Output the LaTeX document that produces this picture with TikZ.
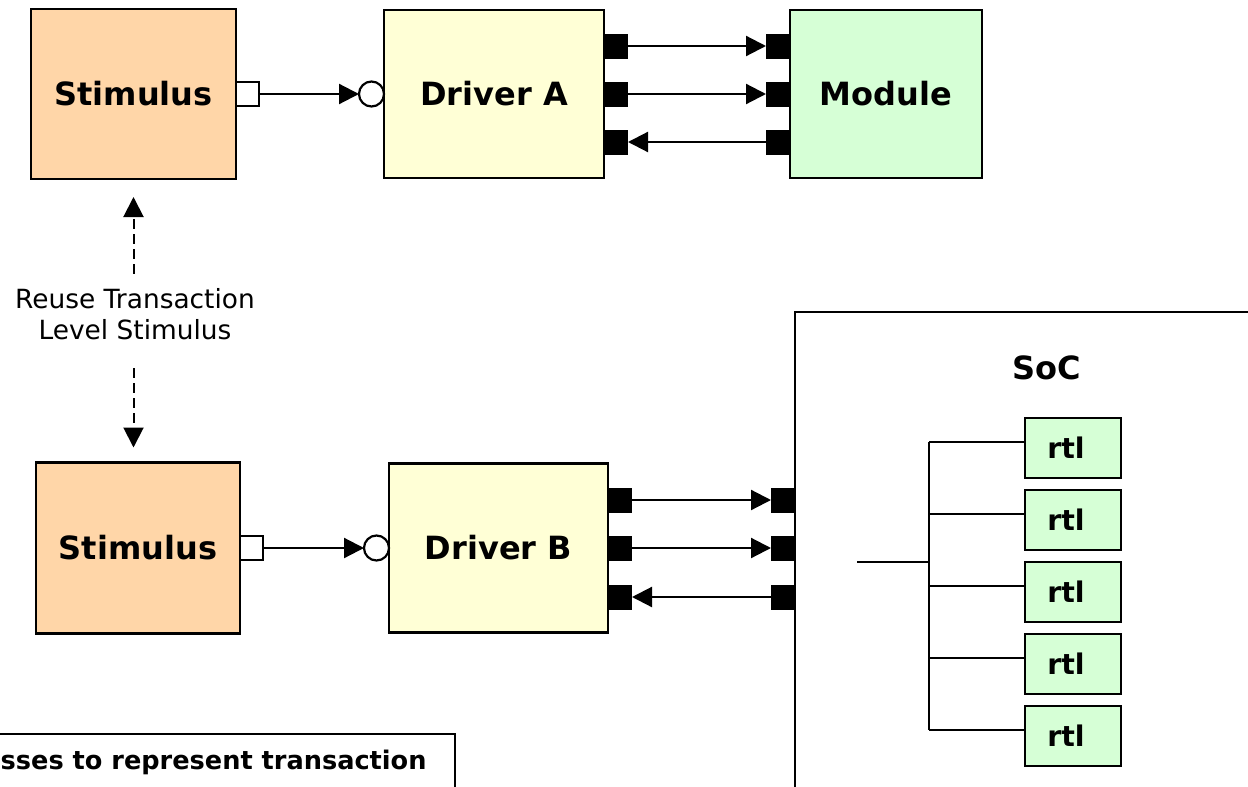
\documentclass[tikz,border=0pt]{standalone}
\usepackage{fontspec}
\setmainfont{DejaVu Sans}
\usepackage{tikz}
\usetikzlibrary{arrows.meta, positioning, calc}

\definecolor{stimfill}{RGB}{255,214,168}
\definecolor{drvfill}{RGB}{255,255,214}
\definecolor{modfill}{RGB}{214,255,214}

\begin{document}
\begin{tikzpicture}[x=0.5pt, y=-0.5pt, >={Triangle[length=10pt, width=10pt]},
  blk/.style={draw, line width=1.2pt, inner sep=0, outer sep=0, font=\fontsize{16}{19}\selectfont\bfseries},
  bport/.style={fill=black, inner sep=0, outer sep=0, minimum width=12pt, minimum height=12.5pt},
  oport/.style={draw, fill=white, line width=1.1pt, inner sep=0, outer sep=0, minimum width=11.5pt, minimum height=12pt},
  iport/.style={draw, circle, fill=white, line width=1.1pt, inner sep=0, outer sep=0, minimum size=12.5pt},
  rtlbox/.style={draw, fill=modfill, line width=1.2pt, inner sep=0, outer sep=0, minimum width=48pt, minimum height=30pt, font=\fontsize{14.2}{17}\selectfont\bfseries},
  sig/.style={line width=1.1pt},
  dasharrow/.style={->, dashed, dash pattern=on 5pt off 2.5pt, line width=1pt}]
  \useasboundingbox (0,0) rectangle (1248,787);
  \clip (0,0) rectangle (1248,787);

  % top row
  \node[blk, fill=stimfill, minimum width=102.5pt, minimum height=85pt] (stima) at (133.5,94) {Stimulus};
  \node[blk, fill=drvfill, minimum width=110pt, minimum height=84pt] (drva) at (494,94) {Driver A};
  \node[blk, fill=modfill, minimum width=96pt, minimum height=84pt] (mod) at (886,94) {Module};

  \node[oport, anchor=west] (oa) at (stima.east) {};
  \node[iport, anchor=east] (ia) at (drva.west) {};
  \draw[sig, ->] (oa) -- (ia);

  \foreach \i/\dy in {1/-48, 2/0, 3/48} {
    \node[bport, anchor=west] (pa\i) at ([shift={(0,\dy)}]drva.east) {};
    \node[bport, anchor=east] (qa\i) at (mod.west |- pa\i) {};
  }
  \draw[sig, ->] (pa1) -- (qa1);
  \draw[sig, ->] (pa2) -- (qa2);
  \draw[sig, <-] (pa3) -- (qa3);

  % reuse
  \node[font=\fontsize{13.2}{15.5}\selectfont, align=center, inner sep=0] (reuse) at (135,314) {Reuse Transaction\\Level Stimulus};

  % bottom row
  \node[blk, fill=stimfill, minimum width=102pt, minimum height=85.5pt] (stimb) at (138,548) {Stimulus};
  \node[blk, fill=drvfill, minimum width=109.5pt, minimum height=84.5pt] (drvb) at (498.5,548) {Driver B};

  \draw[dasharrow, shorten <=7pt, shorten >=9pt] (stima.south |- reuse.north) -- (stima.south);
  \draw[dasharrow, shorten <=14pt, shorten >=7.5pt] (stima.south |- reuse.south) -- (stima.south |- stimb.north);

  \node[oport, anchor=west] (ob) at (stimb.east) {};
  \node[iport, anchor=east] (ib) at (drvb.west) {};
  \draw[sig, ->] (ob) -- (ib);

  \node[draw, line width=1.2pt, anchor=north west, minimum width=300pt, minimum height=300pt, inner sep=0, outer sep=0] (soc) at (795,312) {};
  \node[font=\fontsize{16}{19}\selectfont\bfseries] (soclbl) at (1047,368) {SoC};

  \foreach \i/\dy in {1/-48, 2/0, 3/49} {
    \node[bport, anchor=west] (pb\i) at ([shift={(0,\dy)}]drvb.east) {};
    \node[bport, anchor=east] (qb\i) at (soc.west |- pb\i) {};
  }
  \draw[sig, ->] (pb1) -- (qb1);
  \draw[sig, ->] (pb2) -- (qb2);
  \draw[sig, <-] (pb3) -- (qb3);

  % rtl blocks
  \foreach \k in {1,...,5} {
    \node[rtlbox] (r\k) at (1073,376+72*\k) {rtl\kern7pt};
    \draw[sig] ([shift={(0,-6)}]r\k.west) -- ++(-96,0);
  }
  \coordinate (spine) at ([shift={(-96,-6)}]r3.west);
  \coordinate (busin) at (857,562);
  \draw[sig] ([shift={(-96,-6)}]r1.west) -- ([shift={(-96,-6)}]r5.west);
  \draw[sig] (busin) -- (busin -| spine);

  % note
  \node[draw, line width=1.2pt, anchor=north east, minimum width=400pt, minimum height=80pt, inner sep=0, outer sep=0] (note) at (455,734) {};
  \node[font=\fontsize{12.8}{15}\selectfont\bfseries, anchor=base east, inner sep=0] (notetxt) at ([shift={(-28,35)}]note.north east) {sses to represent transaction};
\end{tikzpicture}
\end{document}
